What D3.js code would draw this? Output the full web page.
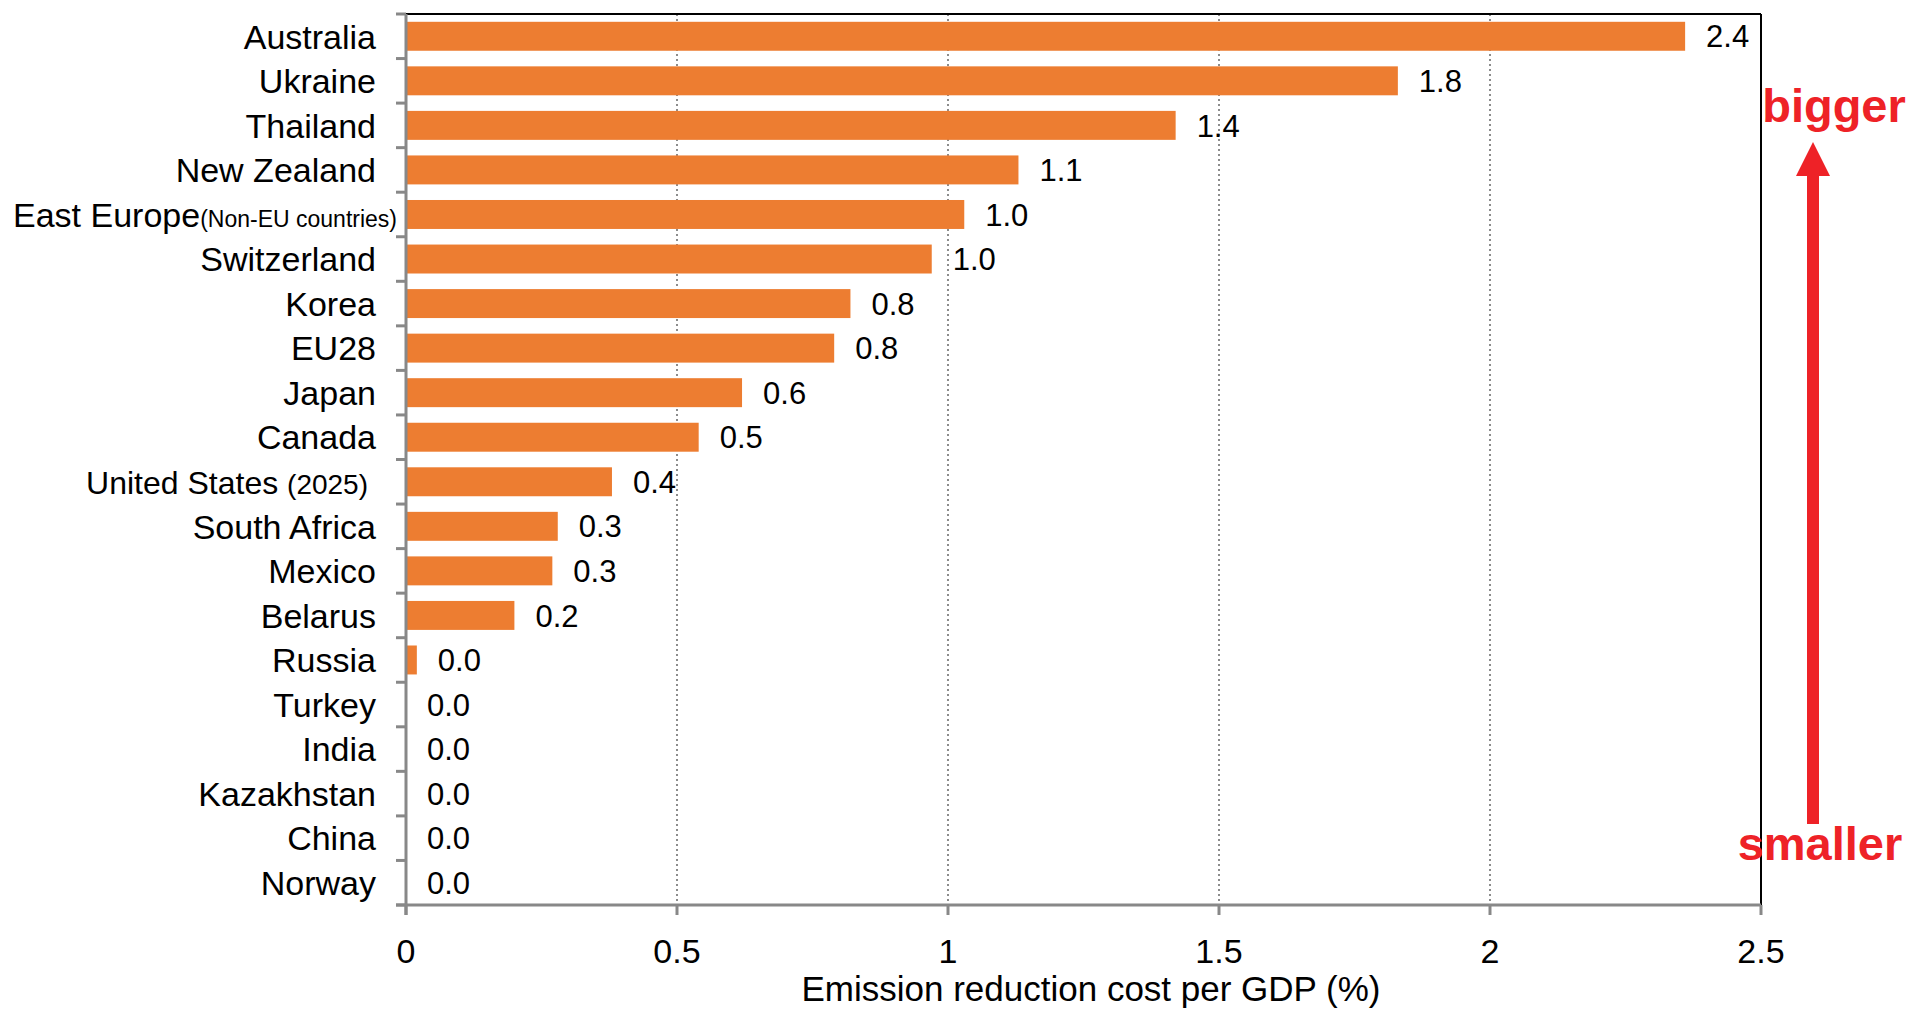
<!DOCTYPE html>
<html><head><meta charset="utf-8">
<script src="https://cdn.jsdelivr.net/npm/d3@7"></script>
<style>
html,body{margin:0;padding:0;background:#fff;}
svg{display:block;font-family:"Liberation Sans",Arial,sans-serif;}
</style></head>
<body>
<svg id="chart" width="1912" height="1009"></svg>
<script>
const categories = ["Australia","Ukraine","Thailand","New Zealand","East Europe","Switzerland","Korea","EU28","Japan","Canada","United States","South Africa","Mexico","Belarus","Russia","Turkey","India","Kazakhstan","China","Norway"];
const categoryNotes = ["","","","","(Non-EU countries)","","","","","","(2025)","","","","","","","","",""];
const values = [2.36,1.83,1.42,1.13,1.03,0.97,0.82,0.79,0.62,0.54,0.38,0.28,0.27,0.20,0.02,0,0,0,0,0];
const xTicks = [0,0.5,1,1.5,2,2.5];
const xTickLabels = ["0","0.5","1","1.5","2","2.5"];
const xTitle = "Emission reduction cost per GDP (%)";
const upLabel = "bigger";
const downLabel = "smaller";

const svg = d3.select("#chart");
const L = 406, R = 1761, T = 14, B = 905;
const x = d3.scaleLinear().domain([0,2.5]).range([L,R]);
const y = d3.scaleBand().domain(categories).range([T,B]).paddingInner(0.35).paddingOuter(0.175);
const step = y.step();
const bandTop = c => y(c) - y.paddingOuter()*step;

// gridlines
svg.append("g").selectAll("line").data(xTicks.filter(t=>t>0 && t<2.5)).join("line")
  .attr("x1",d=>x(d)).attr("x2",d=>x(d)).attr("y1",T).attr("y2",B)
  .attr("stroke","#8c8c8c").attr("stroke-width",2).attr("stroke-dasharray","2,3");

// top & right border
svg.append("line").attr("x1",L).attr("x2",R).attr("y1",T).attr("y2",T).attr("stroke","#000").attr("stroke-width",2);
svg.append("line").attr("x1",R).attr("x2",R).attr("y1",T).attr("y2",B).attr("stroke","#000").attr("stroke-width",2);

// bars
svg.append("g").selectAll("rect").data(categories.map((c,i)=>({c,v:values[i]}))).join("rect")
  .attr("x",x(0)).attr("y",d=>y(d.c)).attr("height",y.bandwidth())
  .attr("width",d=>x(d.v)-x(0)).attr("fill","#ED7D31");

// value labels
svg.append("g").selectAll("text").data(categories.map((c,i)=>({c,v:values[i]}))).join("text")
  .attr("x",d=>x(d.v)+21).attr("y",d=>y(d.c)+y.bandwidth()/2)
  .attr("dy","0.36em").attr("font-size",31).attr("fill","#000")
  .text(d=>d.v.toFixed(1));

// y axis line + ticks
const yAxis = svg.append("g");
yAxis.append("line").attr("x1",L).attr("x2",L).attr("y1",T).attr("y2",B+10).attr("stroke","#888").attr("stroke-width",3);
const bounds = categories.map(bandTop).concat([B]);
yAxis.selectAll("line.t").data(bounds).join("line").attr("class","t")
  .attr("x1",L-10).attr("x2",L).attr("y1",d=>d).attr("y2",d=>d).attr("stroke","#888").attr("stroke-width",3);

// category labels
const labelDx = {"East Europe":21,"United States":-8};
const lab = svg.append("g").selectAll("text").data(categories.map((c,i)=>({c,n:categoryNotes[i]}))).join("text")
  .attr("x",d=>376+(labelDx[d.c]||0)).attr("y",d=>y(d.c)+y.bandwidth()/2)
  .attr("font-size",34).attr("dy","0.36em").attr("text-anchor","end").attr("fill","#000");
lab.append("tspan").attr("font-size",d=>d.c==="United States"?32:34).text(d=>d.c + (d.c==="United States"?" ":""));
lab.filter(d=>d.n).append("tspan").attr("font-size",d=>d.c==="United States"?28:23).text(d=>d.n);

// x axis
const xAxis = svg.append("g");
xAxis.append("line").attr("x1",L-10).attr("x2",R).attr("y1",B).attr("y2",B).attr("stroke","#888").attr("stroke-width",3);
xAxis.selectAll("line.t").data(xTicks).join("line").attr("class","t")
  .attr("x1",d=>x(d)).attr("x2",d=>x(d)).attr("y1",B).attr("y2",B+10).attr("stroke","#888").attr("stroke-width",3);
xAxis.selectAll("text").data(xTicks).join("text")
  .attr("x",d=>x(d)).attr("y",963).attr("text-anchor","middle").attr("font-size",34).attr("fill","#000")
  .text((d,i)=>xTickLabels[i]);
svg.append("text").attr("x",1091).attr("y",1001).attr("text-anchor","middle").attr("font-size",35).attr("fill","#000").text(xTitle);

// arrow annotation
const red = "#EE2227";
svg.append("text").attr("x",1834).attr("y",122).attr("text-anchor","middle").attr("font-size",47).attr("font-weight","bold").attr("fill",red).text(upLabel);
svg.append("text").attr("x",1820).attr("y",860).attr("text-anchor","middle").attr("font-size",47).attr("font-weight","bold").attr("fill",red).text(downLabel);
svg.append("rect").attr("x",1807).attr("y",172).attr("width",12).attr("height",652).attr("fill",red);
svg.append("path").attr("d","M1813,142 L1830,176 L1796,176 Z").attr("fill",red);
</script>
</body></html>
